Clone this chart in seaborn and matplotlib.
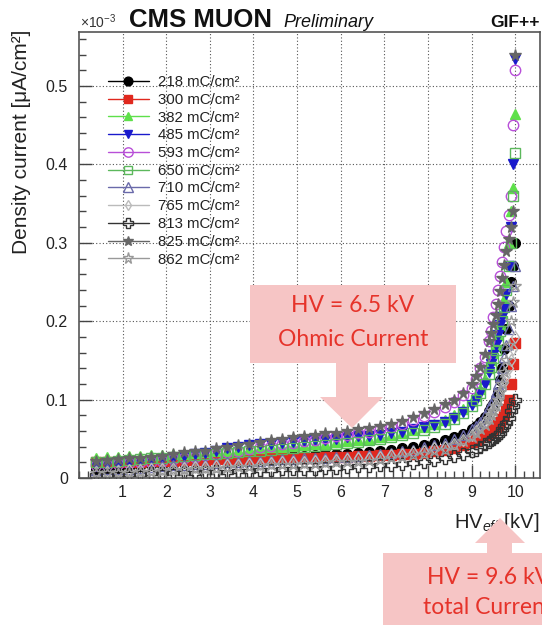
import numpy as np
import pandas as pd
import matplotlib
matplotlib.use("Agg")
import matplotlib.pyplot as plt
import seaborn as sns
from matplotlib.patches import Rectangle, Polygon
from matplotlib.lines import Line2D
from matplotlib.ticker import MultipleLocator, FuncFormatter

# ---------------- data (x in kV, y in 1e-3 uA/cm2) ----------------
hv_kv = [0.4, 0.65, 0.9, 1.15, 1.4, 1.65, 1.9, 2.15, 2.4, 2.65, 2.9, 3.15, 3.4, 3.65, 3.9,
         4.15, 4.4, 4.65, 4.9, 5.15, 5.4, 5.65, 5.9, 6.15, 6.4, 6.65, 6.9, 7.15, 7.4, 7.65,
         7.9, 8.15, 8.4,
         8.6, 8.8, 9.0, 9.1, 9.2, 9.3, 9.4,
         9.45, 9.5, 9.55, 9.6, 9.65, 9.7, 9.75, 9.8, 9.85, 9.9, 9.95, 10.0]

cur_218 = [0.012, 0.013, 0.013, 0.014, 0.015, 0.016, 0.017, 0.018, 0.019, 0.020, 0.021, 0.022, 0.023, 0.024, 0.025,
           0.026, 0.026, 0.027, 0.028, 0.028, 0.029, 0.030, 0.030, 0.031, 0.032, 0.033, 0.034, 0.036, 0.038, 0.040,
           0.042, 0.045, 0.048,
           0.052, 0.056, 0.062, 0.066, 0.072, 0.078, 0.085,
           0.090, 0.095, 0.102, 0.110, 0.125, 0.140, 0.165, 0.190, 0.220, 0.250, 0.270, 0.300]
cur_300 = [0.020, 0.020, 0.021, 0.021, 0.021, 0.022, 0.022, 0.022, 0.023, 0.023, 0.023, 0.024, 0.024, 0.024, 0.024,
           0.025, 0.025, 0.025, 0.026, 0.026, 0.026, 0.027, 0.027, 0.027, 0.028, 0.028, 0.029, 0.029, 0.030, 0.031,
           0.032, 0.034, 0.036,
           0.038, 0.042, 0.046, 0.049, 0.052, 0.055, 0.058,
           0.060, 0.062, 0.065, 0.068, 0.071, 0.075, 0.080, 0.088, 0.100, 0.120, 0.145, 0.172]
cur_382 = [0.026, 0.027, 0.027, 0.028, 0.028, 0.029, 0.029, 0.030, 0.031, 0.032, 0.033, 0.034, 0.035, 0.036, 0.037,
           0.038, 0.039, 0.040, 0.041, 0.042, 0.043, 0.044, 0.046, 0.047, 0.049, 0.050, 0.052, 0.055, 0.058, 0.061,
           0.065, 0.069, 0.074,
           0.080, 0.088, 0.098, 0.105, 0.114, 0.126, 0.140,
           0.150, 0.160, 0.170, 0.182, 0.195, 0.210, 0.228, 0.250, 0.300, 0.340, 0.370, 0.465]
cur_485 = [0.015, 0.016, 0.017, 0.019, 0.021, 0.022, 0.024, 0.026, 0.028, 0.030, 0.032, 0.035, 0.038, 0.040, 0.042,
           0.043, 0.044, 0.045, 0.046, 0.047, 0.048, 0.049, 0.050, 0.052, 0.053, 0.054, 0.055, 0.057, 0.059, 0.062,
           0.065, 0.068, 0.072,
           0.077, 0.084, 0.093, 0.100, 0.108, 0.120, 0.135,
           0.145, 0.157, 0.170, 0.183, 0.195, 0.205, 0.215, 0.235, 0.270, 0.320, 0.400, 0.535]
cur_593 = [0.016, 0.017, 0.018, 0.019, 0.020, 0.021, 0.022, 0.024, 0.026, 0.027, 0.029, 0.031, 0.033, 0.035, 0.037,
           0.039, 0.041, 0.043, 0.045, 0.047, 0.049, 0.051, 0.053, 0.055, 0.057, 0.059, 0.062, 0.065, 0.069, 0.074,
           0.079, 0.084, 0.090,
           0.097, 0.106, 0.115, 0.126, 0.140, 0.155, 0.175,
           0.188, 0.205, 0.222, 0.240, 0.258, 0.275, 0.295, 0.315, 0.335, 0.360, 0.450, 0.520]
cur_650 = [0.020, 0.021, 0.022, 0.023, 0.024, 0.025, 0.026, 0.027, 0.028, 0.029, 0.030, 0.031, 0.032, 0.033, 0.034,
           0.035, 0.036, 0.037, 0.038, 0.040, 0.041, 0.042, 0.043, 0.045, 0.046, 0.048, 0.050, 0.052, 0.055, 0.058,
           0.061, 0.065, 0.069,
           0.075, 0.083, 0.092, 0.100, 0.108, 0.120, 0.133,
           0.142, 0.153, 0.163, 0.175, 0.188, 0.200, 0.218, 0.240, 0.270, 0.300, 0.360, 0.415]
cur_710 = [0.010, 0.011, 0.012, 0.012, 0.013, 0.014, 0.015, 0.016, 0.017, 0.018, 0.018, 0.019, 0.020, 0.021, 0.022,
           0.022, 0.023, 0.024, 0.024, 0.025, 0.025, 0.026, 0.027, 0.027, 0.028, 0.029, 0.030, 0.032, 0.034, 0.036,
           0.039, 0.042, 0.045,
           0.050, 0.055, 0.062, 0.066, 0.072, 0.080, 0.090,
           0.095, 0.100, 0.110, 0.120, 0.130, 0.140, 0.155, 0.170, 0.190, 0.220, 0.245, 0.270]
cur_765 = [0.008, 0.008, 0.009, 0.010, 0.010, 0.011, 0.012, 0.012, 0.013, 0.014, 0.014, 0.015, 0.016, 0.017, 0.018,
           0.018, 0.019, 0.020, 0.020, 0.021, 0.022, 0.022, 0.023, 0.024, 0.025, 0.026, 0.027, 0.029, 0.031, 0.033,
           0.035, 0.038, 0.040,
           0.044, 0.048, 0.055, 0.060, 0.065, 0.071, 0.078,
           0.083, 0.088, 0.094, 0.100, 0.107, 0.115, 0.122, 0.130, 0.140, 0.150, 0.165, 0.180]
cur_813 = [0.004, 0.004, 0.005, 0.005, 0.005, 0.006, 0.006, 0.006, 0.007, 0.007, 0.008, 0.008, 0.008, 0.009, 0.009,
           0.010, 0.010, 0.011, 0.011, 0.012, 0.012, 0.013, 0.013, 0.014, 0.015, 0.015, 0.016, 0.017, 0.018, 0.019,
           0.021, 0.023, 0.025,
           0.028, 0.030, 0.034, 0.036, 0.040, 0.043, 0.046,
           0.048, 0.050, 0.052, 0.055, 0.058, 0.062, 0.066, 0.070, 0.076, 0.085, 0.092, 0.100]
cur_825 = [0.022, 0.023, 0.024, 0.025, 0.026, 0.027, 0.028, 0.030, 0.033, 0.034, 0.035, 0.038, 0.040, 0.042, 0.044,
           0.046, 0.048, 0.050, 0.052, 0.054, 0.055, 0.057, 0.058, 0.060, 0.062, 0.064, 0.066, 0.069, 0.073, 0.078,
           0.083, 0.088, 0.094,
           0.100, 0.108, 0.120, 0.130, 0.142, 0.158, 0.175,
           0.185, 0.196, 0.208, 0.222, 0.238, 0.255, 0.272, 0.290, 0.305, 0.320, 0.340, 0.540]
cur_862 = [0.006, 0.006, 0.007, 0.007, 0.008, 0.008, 0.009, 0.010, 0.010, 0.011, 0.012, 0.012, 0.013, 0.014, 0.014,
           0.015, 0.016, 0.016, 0.017, 0.018, 0.018, 0.019, 0.020, 0.020, 0.021, 0.022, 0.023, 0.025, 0.027, 0.029,
           0.031, 0.034, 0.036,
           0.042, 0.047, 0.052, 0.057, 0.062, 0.068, 0.075,
           0.080, 0.085, 0.092, 0.100, 0.110, 0.120, 0.135, 0.150, 0.170, 0.200, 0.225, 0.245]

series_labels = ["218 mC/cm²", "300 mC/cm²", "382 mC/cm²", "485 mC/cm²", "593 mC/cm²", "650 mC/cm²",
                 "710 mC/cm²", "765 mC/cm²", "813 mC/cm²", "825 mC/cm²", "862 mC/cm²"]
series_values = [cur_218, cur_300, cur_382, cur_485, cur_593, cur_650,
                 cur_710, cur_765, cur_813, cur_825, cur_862]
x_ticks = [1, 2, 3, 4, 5, 6, 7, 8, 9, 10]
y_ticks = [0, 0.1, 0.2, 0.3, 0.4, 0.5]

# ---------------- styles ----------------
styles = [
    dict(color="#000000", marker="o", fill=True, ms=7.0),
    dict(color="#e0281e", marker="s", fill=True, ms=6.5),
    dict(color="#5ee04a", marker="^", fill=True, ms=7.0),
    dict(color="#1a1acc", marker="v", fill=True, ms=7.0),
    dict(color="#b84fd8", marker="o", fill=False, ms=7.5),
    dict(color="#5cb85c", marker="s", fill=False, ms=7.0),
    dict(color="#6a6aaa", marker="^", fill=False, ms=7.5),
    dict(color="#bbbbbb", marker="d", fill=False, ms=6.0),
    dict(color="#333333", marker="P", fill=False, ms=8.0),
    dict(color="#666666", marker="*", fill=True, ms=8.5),
    dict(color="#999999", marker="*", fill=False, ms=9.0),
]

sns.set_theme(style="white")
plt.rcParams["font.family"] = ["Liberation Sans", "DejaVu Sans"]
plt.rcParams["mathtext.fontset"] = "custom"
plt.rcParams["mathtext.rm"] = "Liberation Sans"
plt.rcParams["mathtext.it"] = "Liberation Sans:italic"

W, H = 542, 625
fig = plt.figure(figsize=(W / 100, H / 100), dpi=100)
fig.patch.set_facecolor("white")
ax = fig.add_axes([79 / W, 1 - 478 / H, (540 - 79) / W, (478 - 32) / H])
ax.set_facecolor("white")

rows = []
for lab, vals in zip(series_labels, series_values):
    for xv, yv in zip(hv_kv, vals):
        rows.append((lab, xv, yv))
df = pd.DataFrame(rows, columns=["dose", "hv", "cur"])

handles = []
for lab, st in zip(series_labels, styles):
    sub = df[df["dose"] == lab]
    fc = st["color"] if st["fill"] else "none"
    sns.lineplot(data=sub, x="hv", y="cur", ax=ax, color=st["color"], marker=st["marker"],
                 linestyle="", markersize=st["ms"], markerfacecolor=fc,
                 markeredgecolor=st["color"], markeredgewidth=1.0,
                 estimator=None, sort=False, legend=False)
    handles.append(Line2D([0], [0], color=st["color"], lw=1.0, marker=st["marker"],
                          markersize=st["ms"] * 0.9, markerfacecolor=fc,
                          markeredgecolor=st["color"], markeredgewidth=1.0))

ax.set_xlim(0, 10.57)
ax.set_ylim(0, 0.569)
ax.set_xlabel("")
ax.set_ylabel("")
ax.set_xticks(x_ticks)
ax.set_yticks(y_ticks)
ax.xaxis.set_minor_locator(MultipleLocator(0.2))
ax.yaxis.set_minor_locator(MultipleLocator(0.02))
ax.yaxis.set_major_formatter(FuncFormatter(lambda v, p: f"{v:g}"))
ax.tick_params(axis="both", which="major", direction="in", length=9.5, width=1.0,
               color="#444444", labelsize=11.5, labelcolor="#222222")
ax.tick_params(axis="both", which="minor", direction="in", length=5, width=1.0, color="#444444")
ax.tick_params(axis="y", which="major", pad=8)
ax.tick_params(axis="x", which="major", pad=5)
ax.tick_params(bottom=True, left=True, top=False, right=False, which="both")
ax.grid(True, which="major", linestyle=(0, (1, 2)), color="#555555", linewidth=0.8)
for sp in ax.spines.values():
    sp.set_color("#555555")
    sp.set_linewidth(1.2)

leg = ax.legend(handles, series_labels, loc="upper left",
                bbox_to_anchor=(108 / W, 1 - 75 / H), bbox_transform=fig.transFigure,
                frameon=False, fontsize=10.8, handlelength=2.7, handletextpad=0.65,
                labelspacing=0.25, borderpad=0, borderaxespad=0)
for t in leg.get_texts():
    t.set_color("#222222")

# ---------------- texts ----------------
fig.text(22 / W, 1 - 30 / H, "Density current [μA/cm²]", rotation=90, ha="center", va="top",
         fontsize=15, color="#222222")
fig.text(539 / W, 1 - 528 / H, r"HV$_{eff}$ [kV]", ha="right", va="baseline",
         fontsize=14.5, color="#222222")
fig.text(80 / W, 1 - 28 / H, r"$\times$10$^{-3}$", ha="left", va="baseline", fontsize=10,
         color="#333333")
fig.text(129 / W, 1 - 27 / H, "CMS MUON", ha="left", va="baseline", fontsize=18.5,
         fontweight="bold", color="#111111")
fig.text(283 / W, 1 - 27 / H, "Preliminary", ha="left", va="baseline", fontsize=13,
         style="italic", color="#111111")
fig.text(540 / W, 1 - 27 / H, "GIF++", ha="right", va="baseline", fontsize=12.5,
         fontweight="bold", color="#111111")

# ---------------- annotation boxes and arrows ----------------
pink = "#f6c5c5"
red = "#e6332a"


def px(x, y):
    return (x / W, 1 - y / H)


box1 = Rectangle(px(250, 363), 206 / W, 78 / H, transform=fig.transFigure,
                 facecolor=pink, edgecolor="none", zorder=5)
fig.add_artist(box1)
arrow1 = Polygon([px(336, 362), px(368, 362), px(368, 397), px(383, 397), px(352, 428),
                  px(320, 397), px(336, 397)], closed=True, transform=fig.transFigure,
                 facecolor=pink, edgecolor="none", zorder=5)
fig.add_artist(arrow1)
fig.text(353 / W, 1 - 305 / H, "HV = 6.5 kV", ha="center", va="center", fontsize=16.5,
         color=red, family=["Lato", "DejaVu Sans"], zorder=6)
fig.text(353 / W, 1 - 340 / H, "Ohmic Current", ha="center", va="center", fontsize=16.5,
         color=red, family=["Lato", "DejaVu Sans"], zorder=6)

box2 = Rectangle(px(383, 640), 180 / W, 87 / H, transform=fig.transFigure,
                 facecolor=pink, edgecolor="none", zorder=5)
fig.add_artist(box2)
arrow2 = Polygon([px(487, 554), px(512, 554), px(512, 543), px(525, 543), px(500, 518),
                  px(475, 543), px(487, 543)], closed=True, transform=fig.transFigure,
                 facecolor=pink, edgecolor="none", zorder=5)
fig.add_artist(arrow2)
fig.text(427 / W, 1 - 578 / H, "HV = 9.6 kV", ha="left", va="center", fontsize=16.5,
         color=red, family=["Lato", "DejaVu Sans"], zorder=6)
fig.text(423 / W, 1 - 607 / H, "total Current", ha="left", va="center", fontsize=16.5,
         color=red, family=["Lato", "DejaVu Sans"], zorder=6)

fig.savefig("out.png", dpi=100)
